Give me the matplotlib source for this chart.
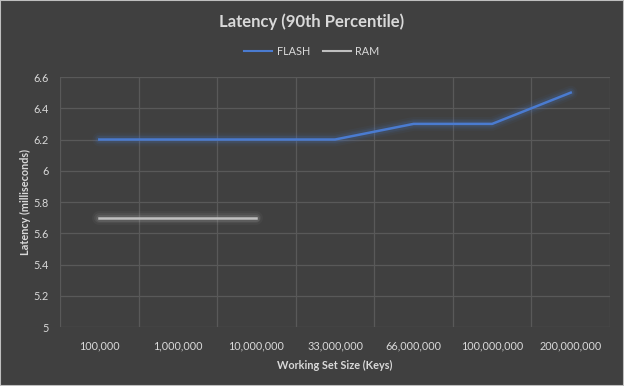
import numpy as np
import matplotlib.pyplot as plt

# ----------------------------
# Datos
# ----------------------------
categories = ['100,000', '1,000,000', '10,000,000', '33,000,000',
              '66,000,000', '100,000,000', '200,000,000']
flash = [6.2, 6.2, 6.2, 6.2, 6.3, 6.3, 6.5]
ram = [5.7, 5.7, 5.7, np.nan, np.nan, np.nan, np.nan]
y_ticks = [5, 5.2, 5.4, 5.6, 5.8, 6, 6.2, 6.4, 6.6]
y_labels = ['5', '5.2', '5.4', '5.6', '5.8', '6', '6.2', '6.4', '6.6']

BG = '#404040'
TXT = '#d9d9d9'
GRID = '#595959'
BLUE = '#4a7bd0'
GRAY = '#bfbfbf'

plt.rcParams['font.family'] = ['Lato', 'DejaVu Sans']

fig = plt.figure(figsize=(6.24, 3.86), dpi=100, facecolor=BG)
ax = fig.add_axes([0.0962, 0.1528, 0.8814, 0.6477])
ax.set_facecolor(BG)

x = np.arange(len(categories))


def glow_line(xs, ys, color, label):
    # efecto "glow" de Excel: capas anchas y transparentes
    for w, a in [(10, 0.05), (7, 0.08), (5, 0.12)]:
        ax.plot(xs, ys, color=color, linewidth=w, alpha=a,
                solid_capstyle='round', zorder=3)
    ax.plot(xs, ys, color=color, linewidth=1.8, label=label, zorder=4)


glow_line(x, flash, BLUE, 'FLASH')
glow_line(x, ram, GRAY, 'RAM')

ax.set_xlim(-0.5, len(categories) - 0.5)
ax.set_ylim(5, 6.6)
ax.set_yticks(y_ticks)
ax.set_yticklabels(y_labels)
ax.set_xticks(x)
ax.set_xticklabels(categories)
ax.set_xticks(np.arange(-0.5, len(categories)), minor=True)

ax.grid(True, axis='y', color=GRID, linewidth=0.9)
ax.grid(True, axis='x', which='minor', color=GRID, linewidth=0.9)
ax.set_axisbelow(True)
for s in ax.spines.values():
    s.set_visible(False)

ax.tick_params(axis='both', which='both', length=0, colors=TXT, labelsize=7.8)
ax.tick_params(axis='x', pad=10)
ax.tick_params(axis='y', pad=8)

ax.set_xlabel('Working Set Size (Keys)', color=TXT, fontsize=7.8,
              fontweight='bold', labelpad=6)
ax.set_ylabel('Latency (milliseconds)', color=TXT, fontsize=7.8,
              fontweight='bold', labelpad=2)

fig.text(0.5, 0.943, 'Latency (90th Percentile)', color=TXT, fontsize=12,
         fontweight='bold', ha='center', va='center')

leg = fig.legend(handles=ax.get_lines()[3::4], labels=['FLASH', 'RAM'],
                 loc='center', bbox_to_anchor=(0.5, 0.867), ncol=2,
                 frameon=False, fontsize=7.8, labelcolor=TXT,
                 handlelength=2.6, handletextpad=0.4, columnspacing=1.2)
for h in leg.legend_handles:
    h.set_linewidth(1.5)

# borde exterior
fig.patches.append(plt.Rectangle((0, 0), 1, 1, transform=fig.transFigure,
                                 fill=False, edgecolor='#bfbfbf', linewidth=1.5))

plt.savefig('out.png', dpi=100, facecolor=BG)
